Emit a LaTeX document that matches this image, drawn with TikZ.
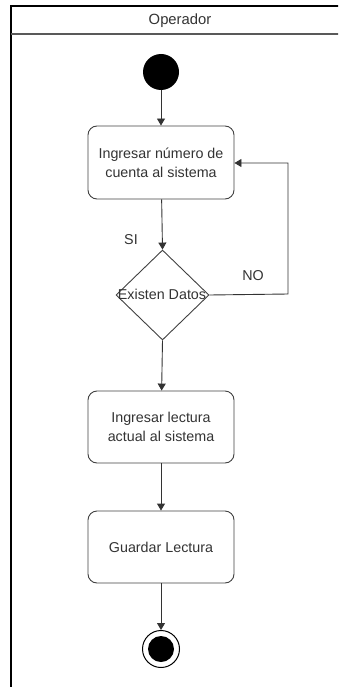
\documentclass[tikz,border=0pt]{standalone}
\usepackage{fontspec}
\setmainfont{Liberation Sans}
\usetikzlibrary{shapes.geometric,arrows.meta}
\begin{document}
\begin{tikzpicture}[x=1pt,y=-1pt,
  act/.style={draw=black!75,line width=0.9pt,rounded corners=9pt,minimum width=146pt,minimum height=72pt,align=center,font=\fontsize{14.3}{19}\selectfont,text=black!80},
  flow/.style={draw=black!80,line width=0.9pt,-{Triangle[length=7pt,width=8pt]}},
  lbl/.style={font=\fontsize{14.3}{17}\selectfont,text=black!80}]
\useasboundingbox (0,0) rectangle (338,687);
\clip (0,0) rectangle (338,687);
% swimlane
\draw[line width=1.1pt] (11,700) -- (11,6) -- (345,6);
\draw[line width=1.3pt,draw=black!65] (11,34) -- (345,34);
\node[font=\fontsize{14.8}{17}\selectfont,text=black!80] (lane) at (180,20.5) {Operador};
% nodes
\node[circle,fill=black,minimum size=36pt,inner sep=0pt] (start) at (161,72) {};
\node[act,minimum height=73pt] (a1) at (161,162.5) {Ingresar número de\\cuenta al sistema};
\node[diamond,draw=black!75,line width=0.9pt,minimum width=93pt,minimum height=90pt,inner sep=0pt] (d) at (162.5,295) {};
\node[lbl] (dtext) at (162,294) {Existen Datos};
\node[act] (a2) at (161,427) {Ingresar lectura\\actual al sistema};
\node[act] (a3) at (161,547) {Guardar Lectura};
\node[circle,draw=black,line width=1pt,minimum size=37pt,inner sep=0pt] (end) at (161,649) {};
\node[circle,fill=black,minimum size=26pt,inner sep=0pt] (endin) at (161,649) {};
% labels
\node[lbl] (si) at (131,240) {SI};
\node[lbl] (no) at (253,276) {NO};
\coordinate (c1) at (288,294);
\coordinate (c2) at (288,163);
% edges
\draw[flow] (start) -- (a1);
\draw[flow] (a1) -- (d.north);
\draw[flow] (d.south) -- (a2);
\draw[flow] (a2) -- (a3);
\draw[flow] (a3) -- (end);
\draw[flow] (d.east) -- (c1) -- (c2) -- (a1.east |- c2);
\end{tikzpicture}
\end{document}
